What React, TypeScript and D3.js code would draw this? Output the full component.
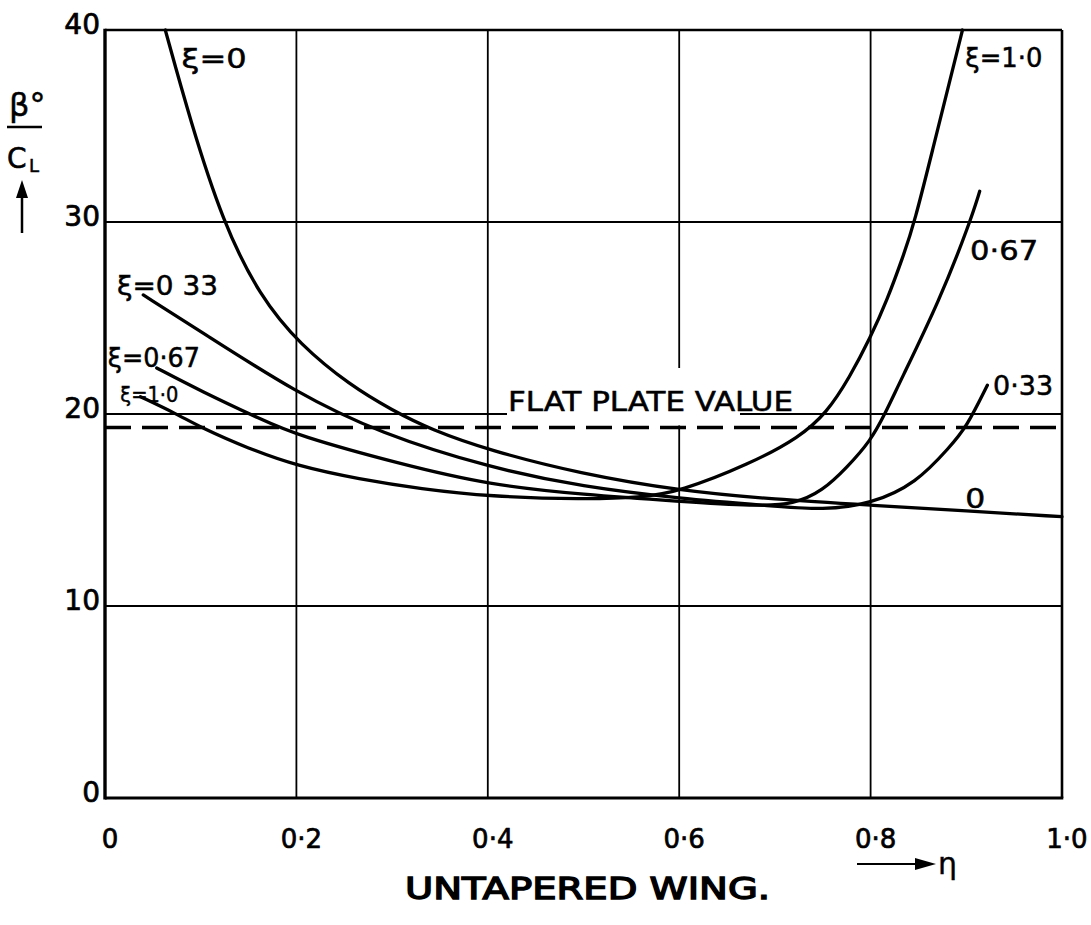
import React from "react";
import * as d3 from "d3";

// eta (spanwise position) and beta/CL readings for each xi curve
const etaXi0 = [0.063, 0.089, 0.123, 0.162, 0.204, 0.256, 0.3, 0.34, 0.402, 0.496, 0.601, 0.7, 0.8, 0.9, 1.0];
const valXi0 = [40, 35.3, 30, 26.1, 23.6, 21.5, 20.2, 19.2, 18.1, 16.9, 16.0, 15.55, 15.25, 14.95, 14.65];

const etaXi033 = [0.04, 0.1, 0.2, 0.287, 0.402, 0.5, 0.6, 0.7, 0.75, 0.8, 0.848, 0.883, 0.9, 0.922];
const valXi033 = [26.2, 24.3, 21.1, 19.0, 17.2, 16.2, 15.6, 15.2, 15.0, 15.3, 16.4, 18.3, 19.3, 21.5];

const etaXi067 = [0.054, 0.1, 0.164, 0.2, 0.308, 0.402, 0.5, 0.6, 0.68, 0.72, 0.75, 0.775, 0.8, 0.815, 0.83, 0.872, 0.904, 0.914];
const valXi067 = [22.4, 21.2, 19.7, 18.9, 17.4, 16.3, 15.8, 15.45, 15.2, 15.3, 16.0, 17.2, 18.6, 20.0, 21.6, 25.9, 30, 31.6];

const etaXi10 = [0.037, 0.075, 0.1, 0.15, 0.2, 0.266, 0.33, 0.402, 0.5, 0.56, 0.6, 0.674, 0.726, 0.754, 0.778, 0.8, 0.817, 0.834, 0.846, 0.865, 0.883, 0.896];
const valXi10 = [20.9, 20.0, 19.3, 18.2, 17.3, 16.6, 16.1, 15.7, 15.55, 15.65, 15.95, 17.4, 18.8, 20.05, 21.9, 24.0, 25.9, 28.2, 30, 33.8, 37.4, 40];

const flatPlateValue = 19.3;

const xTicks = [0, 0.2, 0.4, 0.6, 0.8, 1.0];
const xTickLabels = ["0", "0·2", "0·4", "0·6", "0·8", "1·0"];
const yTicks = [0, 10, 20, 30, 40];
const yTickLabels = ["0", "10", "20", "30", "40"];

// curve labels anchored in data coordinates (eta, value)
const labelTexts = ["ξ=0", "ξ=1·0", "0·67", "0·33", "0", "ξ=0 33", "ξ=0·67", "ξ=1·0"];
const labelEta = [0.08, 0.899, 0.904, 0.928, 0.899, 0.0125, 0.003, 0.016];
const labelVal = [38.0, 38.07, 28.0, 21.0, 15.1, 26.2, 22.45, 20.6];
const labelWidths = [65, 77, 68, 60, 20, 101, 92, 58];

const W = 1091;
const H = 925;
const FONT = "'DejaVu Sans', 'Liberation Sans', sans-serif";

const App = () => {
    const x = d3.scaleLinear().domain([0, 1]).range([105, 1062]);
    const y = d3.scaleLinear().domain([0, 40]).range([798, 30]);

    const line = d3.line<[number, number]>()
        .x(d => x(d[0]))
        .y(d => y(d[1]))
        .curve(d3.curveBasis);

    const series = [
        [etaXi0, valXi0],
        [etaXi033, valXi033],
        [etaXi067, valXi067],
        [etaXi10, valXi10],
    ].map(([e, v]) => e.map((n, i) => [n, v[i]] as [number, number]));

    return (
        <svg width={W} height={H} style={{ position: "absolute", left: 0, top: 0, background: "#fff" }}>
            {/* grid */}
            {[0.2, 0.4, 0.6, 0.8].map(t => (
                <line key={"gx" + t} x1={x(t)} x2={x(t)} y1={y(40)} y2={y(0)} stroke="#000" strokeWidth={1.8} />
            ))}
            {[10, 20, 30].map(t => (
                <line key={"gy" + t} x1={x(0)} x2={x(1)} y1={y(t)} y2={y(t)} stroke="#000" strokeWidth={1.8} />
            ))}

            {/* white patch behind the flat plate label */}
            <rect x={507} y={368} width={233} height={y(flatPlateValue) - 370} fill="#fff" />
            <text x={508} y={411} fontFamily={FONT} fontSize={26} textLength={285} lengthAdjust="spacingAndGlyphs"
                stroke="#000" strokeWidth={0.5}>FLAT PLATE VALUE</text>

            {/* flat plate dashed line */}
            <line x1={x(0)} x2={x(1)} y1={y(flatPlateValue)} y2={y(flatPlateValue)}
                stroke="#000" strokeWidth={3.6} strokeDasharray="26 11" />

            {/* frame */}
            <line x1={x(0)} x2={x(1)} y1={y(40)} y2={y(40)} stroke="#000" strokeWidth={2.6} />
            <line x1={x(1)} x2={x(1)} y1={y(40)} y2={y(0)} stroke="#000" strokeWidth={2.6} />
            <line x1={x(0)} x2={x(1) + 1.3} y1={y(0)} y2={y(0)} stroke="#000" strokeWidth={3.2} />
            <line x1={x(0)} x2={x(0)} y1={y(40) - 1.3} y2={y(0) + 1.6} stroke="#000" strokeWidth={3.4} />

            {/* curves */}
            {series.map((s, i) => (
                <path key={"c" + i} d={line(s) || ""} fill="none" stroke="#000" strokeWidth={3.3} strokeLinejoin="round" strokeLinecap="round" />
            ))}

            {/* curve labels */}
            {labelTexts.map((t, i) => (
                <text key={"l" + i} x={x(labelEta[i])} y={y(labelVal[i])} fontFamily={FONT}
                    fontSize={i === 7 ? 22 : 26} textLength={labelWidths[i]} lengthAdjust="spacingAndGlyphs"
                    stroke="#000" strokeWidth={0.5}>{t}</text>
            ))}

            {/* x tick labels */}
            {xTicks.map((t, i) => (
                <text key={"xt" + t} x={x(t) + 5} y={848} textAnchor="middle" fontFamily={FONT} fontSize={26}
                    stroke="#000" strokeWidth={0.7}>{xTickLabels[i]}</text>
            ))}

            {/* y tick labels */}
            {yTicks.map((t, i) => (
                <text key={"yt" + t} x={100} y={y(t) + 4} textAnchor="end" fontFamily={FONT} fontSize={28}
                    stroke="#000" strokeWidth={0.7}>{yTickLabels[i]}</text>
            ))}

            {/* y axis title: beta / C_L with up arrow */}
            <text x={9} y={116} fontFamily={FONT} fontSize={32} stroke="#000" strokeWidth={0.5}>β°</text>
            <line x1={7} x2={42} y1={127} y2={127} stroke="#000" strokeWidth={2.5} />
            <text x={7} y={168} fontFamily={FONT} fontSize={28} stroke="#000" strokeWidth={0.6}>C</text>
            <text x={29} y={172} fontFamily={FONT} fontSize={18} stroke="#000" strokeWidth={0.5}>L</text>
            <line x1={22} x2={22} y1={195} y2={233} stroke="#000" strokeWidth={2.5} />
            <path d="M16,198 L22,180 L28,198 Z" fill="#000" />

            {/* x axis arrow with eta */}
            <line x1={857} x2={920} y1={864} y2={864} stroke="#000" strokeWidth={2.2} />
            <path d="M915,858 L936,864 L915,870 Z" fill="#000" />
            <text x={938} y={874} fontFamily={FONT} fontSize={30} stroke="#000" strokeWidth={0.4}>η</text>

            {/* title */}
            <text x={405} y={899} fontFamily={FONT} fontSize={30} textLength={365}
                lengthAdjust="spacingAndGlyphs" stroke="#000" strokeWidth={1.4}>UNTAPERED WING.</text>
        </svg>
    );
};

export default App;
